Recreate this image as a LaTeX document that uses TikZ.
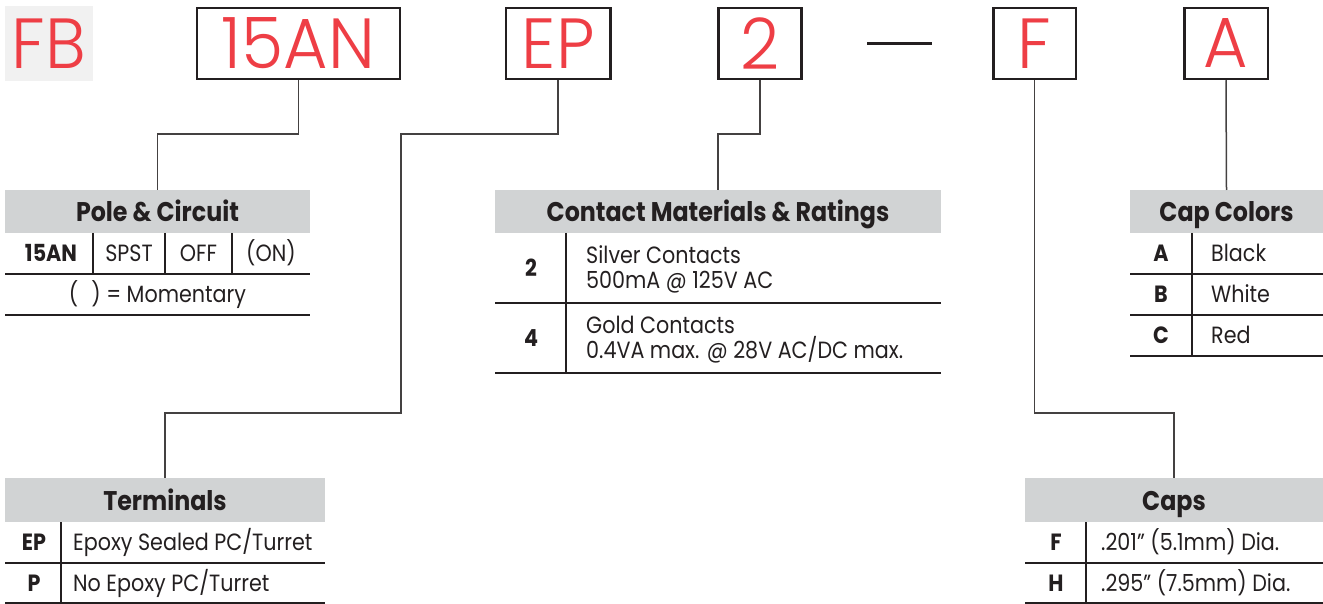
\documentclass[tikz,border=0pt]{standalone}
\usepackage{fontspec}
\setmainfont{Poppins}[FakeStretch=0.88]
\newfontfamily\thinfont{Poppins}[UprightFont=* Light,FakeStretch=0.96]
\definecolor{codered}{HTML}{EE3E45}
\definecolor{headgray}{HTML}{D1D3D4}
\definecolor{fbgray}{HTML}{F1F1F1}
\definecolor{ink}{HTML}{231F20}

\begin{document}
\begin{tikzpicture}[x=1pt,y=-1pt]
  \def\cap{16.4pt}
  \def\top{43.5}

\tikzstyle{codebox}=[draw=ink,line width=2.5pt,fill=white,text=codered,font=\thinfont\fontsize{71}{71}\selectfont,minimum height=71pt,inner sep=0pt]
\tikzstyle{head}=[fill=headgray,minimum height=43pt,inner sep=0pt,outer sep=0pt,text=ink,text height=20.5pt,text depth=0pt,font=\bfseries\fontsize{27}{27}\selectfont]
\tikzstyle{key}=[text=ink,font=\bfseries\fontsize{23.5}{24}\selectfont,text height=\cap,text depth=0pt,inner sep=0pt]
\tikzstyle{val}=[text=ink,font=\fontsize{23.5}{24}\selectfont,text height=\cap,text depth=0pt,inner sep=0pt]
\tikzstyle{line}=[anchor=base west,text=ink,font=\fontsize{23.5}{24}\selectfont,inner sep=0pt]
\tikzstyle{rule}=[draw=ink,line width=1.5pt]
\tikzstyle{wire}=[draw=ink!85,line width=1.5pt]
\useasboundingbox (0,0) rectangle (1323,604);
% part number
\node[codebox][draw=none,fill=fbgray,minimum width=88pt,minimum height=74.5pt] (bFB) at (49,43.3) {FB};
\node[codebox][minimum width=203pt] (b15AN) at (298.3,\top) {15AN};
\node[codebox][minimum width=104.5pt] (bEP) at (558.2,\top) {EP};
\node[codebox][minimum width=83pt] (b2) at (760.2,\top) {2};
\coordinate (d1) at (867,\top);
\coordinate (d2) at (931.7,\top);
\draw[ink,line width=2.5pt] (d1) -- (d2);
\node[codebox][minimum width=82.5pt] (bF) at (1034.5,\top) {F};
\node[codebox][minimum width=83.5pt] (bA) at (1226,\top) {A};
% Pole & Circuit
\node[head][minimum width=305pt] (hPole) at (157.5,211.5) {Pole \& Circuit};
\node[key] (p1) at (51,253.5) {15AN};
\node[val] (p2) at (129,253.5) {SPST};
\node[val] (p3) at (198.5,253.5) {OFF};
\node[val] (p4) at (271,253.5) {(ON)};
\node[val] (p5) at (157.5,294.5) {(\hspace{13pt}) = Momentary};
\draw[rule] (93,233) -- (93,274) (165,233) -- (165,274) (232,233) -- (232,274);
\draw[rule] (5,274) -- (310,274) (5,315) -- (310,315);
% Contact Materials & Ratings
\node[head][minimum width=446pt] (hCont) at (718,211.5) {Contact Materials \& Ratings};
\node[key] (c1) at (531,268) {2};
\node[line] (c1a) at (586,263.5) {Silver Contacts};
\node[line] (c1b) at (586,288) {500mA @ 125V AC};
\node[key] (c2) at (531,338) {4};
\node[line] (c2a) at (586,333.5) {Gold Contacts};
\node[line] (c2b) at (586,358) {0.4VA max. @ 28V AC/DC max.};
\draw[rule] (566,233) -- (566,373);
\draw[rule] (495,303) -- (941,303) (495,373) -- (941,373);
% Cap Colors
\node[head][minimum width=193pt] (hColor) at (1226.5,211.5) {Cap Colors};
\node[key] (k1) at (1161,253.5) {A};
\node[val,anchor=west] (n1) at (1211,253.5) {Black};
\node[key] (k2) at (1161,294.5) {B};
\node[val,anchor=west] (n2) at (1211,294.5) {White};
\node[key] (k3) at (1161,335.5) {C};
\node[val,anchor=west] (n3) at (1211,335.5) {Red};
\draw[rule] (1192,233) -- (1192,356);
\draw[rule] (1130,274) -- (1323,274) (1130,315) -- (1323,315) (1130,356) -- (1323,356);
% Terminals
\node[head][minimum width=320pt,minimum height=44pt] (hTerm) at (165,500) {Terminals};
\node[key] (t1) at (34,542.5) {EP};
\node[val,anchor=west] (t1v) at (73,542.5) {Epoxy Sealed PC/Turret};
\node[key] (t2) at (34,583) {P};
\node[val,anchor=west] (t2v) at (73,583) {No Epoxy PC/Turret};
\draw[rule] (61,522) -- (61,603);
\draw[rule] (5,563) -- (325,563) (5,603) -- (325,603);
% Caps
\node[head][minimum width=298pt,minimum height=44pt] (hCaps) at (1174,500) {Caps};
\node[key] (s1) at (1056,542.5) {F};
\node[val,anchor=west] (s1v) at (1101,542.5) {.201\textquotedblright{} (5.1mm) Dia.};
\node[key] (s2) at (1056,583) {H};
\node[val,anchor=west] (s2v) at (1101,583) {.295\textquotedblright{} (7.5mm) Dia.};
\draw[rule] (1086,522) -- (1086,603);
\draw[rule] (1025,563) -- (1323,563) (1025,603) -- (1323,603);
% leaders
\coordinate (epBend) at (401,413);
\coordinate (fBend) at (1034.5,413);
\draw[wire] (b15AN.south) -- ++(0,54) -| (hPole.north);
\draw[wire] (bEP.south) -- ++(0,54) -| (epBend) -| (hTerm.north);
\draw[wire] (b2.south) -- ++(0,54) -| (hCont.north);
\draw[wire] (bF.south) -- (fBend) -| (hCaps.north);
\draw[wire] (bA.south) -- (hColor.north);
\end{tikzpicture}
\end{document}
